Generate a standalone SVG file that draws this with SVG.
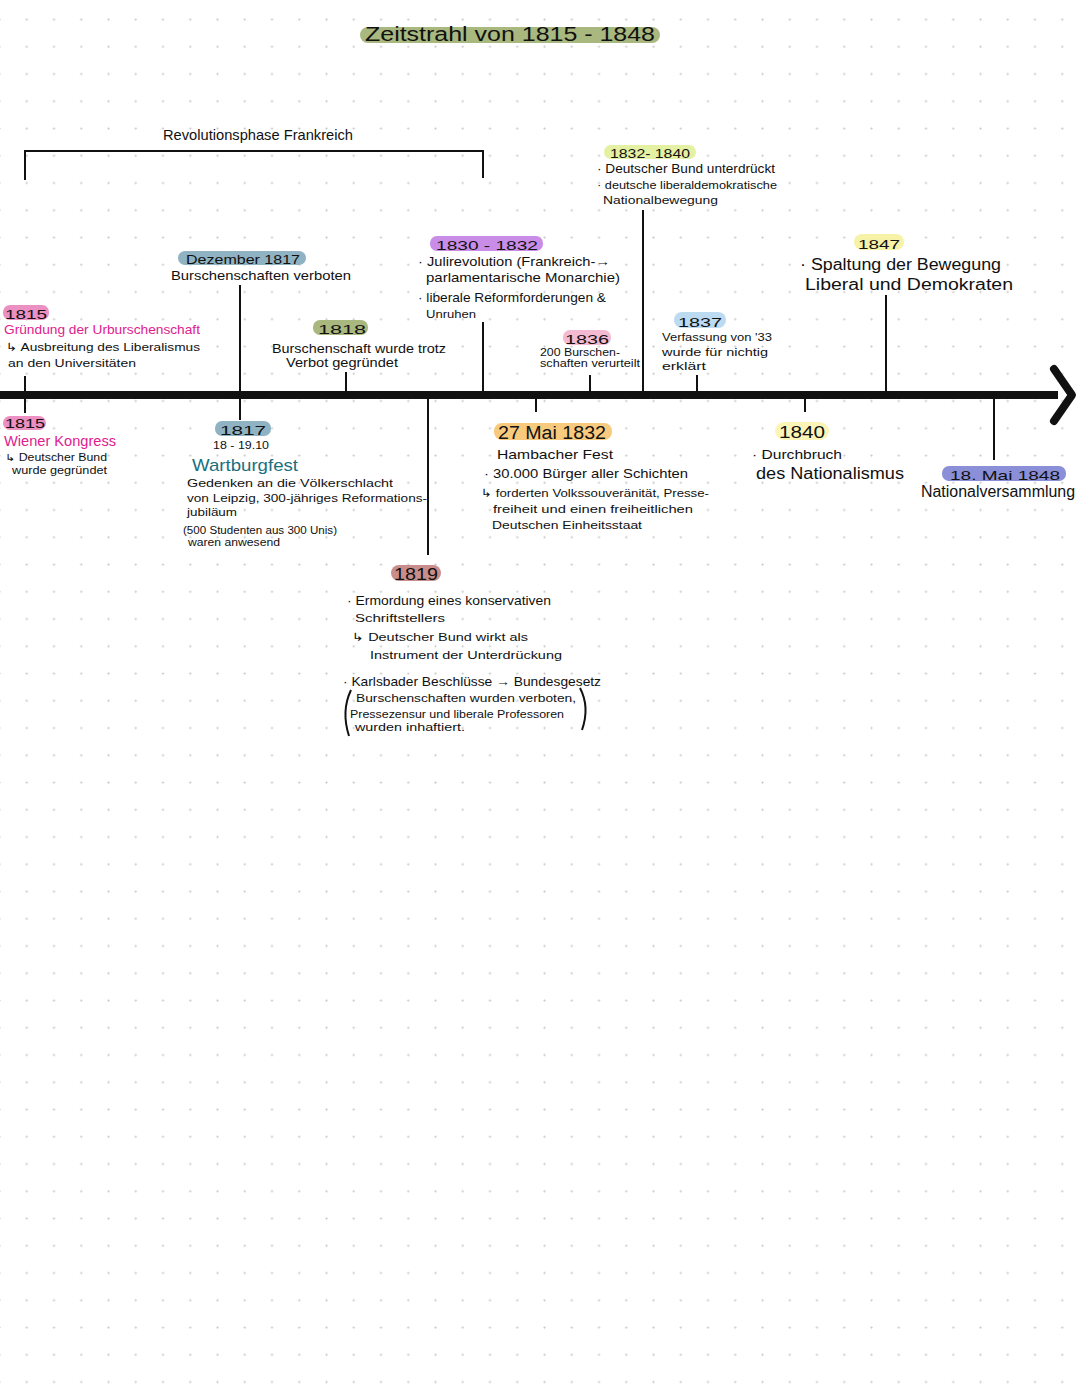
<svg xmlns="http://www.w3.org/2000/svg" width="1080" height="1394" viewBox="0 0 1080 1394">
<defs>
<pattern id="dots" x="-2" y="18" width="27.25" height="27.25" patternUnits="userSpaceOnUse">
<circle cx="1.5" cy="1.5" r="1.1" fill="#c8c8c8"/>
</pattern>
<style>
text{font-family:"Liberation Sans","DejaVu Sans",sans-serif;fill:#111}
.h{font-size:16px}
.m{font-size:13px}
.s{font-size:11px}
.xs{font-size:10px}
.ln{stroke:#111;stroke-width:2;fill:none}
.pink{fill:#e0208f}
</style>
</defs>
<rect width="1080" height="1394" fill="#fff"/>
<rect width="1080" height="1394" fill="url(#dots)"/>

<g id="title">
<rect x="360" y="27" width="300" height="16" rx="8" fill="#a9b87f"/>
<text x="365" y="41" font-size="20" textLength="290" lengthAdjust="spacingAndGlyphs">Zeitstrahl von 1815 - 1848</text>
</g>

<g id="connectors">
<line x1="0" y1="395" x2="1058" y2="395" stroke="#111" stroke-width="8"/>
<polyline points="1054,369 1072,395 1054,421" fill="none" stroke="#111" stroke-width="8" stroke-linecap="round" stroke-linejoin="round"/>
<polyline class="ln" points="25,180 25,151 483,151 483,178"/>
<line class="ln" x1="25" y1="376" x2="25" y2="413"/>
<line class="ln" x1="240" y1="285" x2="240" y2="420"/>
<line class="ln" x1="346" y1="372" x2="346" y2="395"/>
<line class="ln" x1="428" y1="395" x2="428" y2="555"/>
<line class="ln" x1="483" y1="322" x2="483" y2="395"/>
<line class="ln" x1="536" y1="395" x2="536" y2="412"/>
<line class="ln" x1="590" y1="375" x2="590" y2="395"/>
<line class="ln" x1="643" y1="210" x2="643" y2="395"/>
<line class="ln" x1="697" y1="375" x2="697" y2="395"/>
<line class="ln" x1="805" y1="395" x2="805" y2="412"/>
<line class="ln" x1="886" y1="295" x2="886" y2="395"/>
<line class="ln" x1="994" y1="395" x2="994" y2="460"/>
</g>

<g id="revolutionsphase">
<text x="163" y="140" font-size="15" textLength="190" lengthAdjust="spacingAndGlyphs">Revolutionsphase Frankreich</text>
</g>

<g id="n1832-1840">
<rect x="604" y="145" width="92" height="14" rx="7" fill="#e4f0a2"/>
<text x="610" y="158" class="m" textLength="80" lengthAdjust="spacingAndGlyphs">1832- 1840</text>
<text x="597" y="173" class="m" textLength="178" lengthAdjust="spacingAndGlyphs">· Deutscher Bund unterdrückt</text>
<text x="597" y="189" class="s" textLength="180" lengthAdjust="spacingAndGlyphs">· deutsche liberaldemokratische</text>
<text x="603" y="204" class="s" textLength="115" lengthAdjust="spacingAndGlyphs">Nationalbewegung</text>
</g>

<g id="n-dez1817">
<rect x="178" y="251" width="128" height="14" rx="7" fill="#8fb3c3"/>
<text x="186" y="264" class="m" textLength="114" lengthAdjust="spacingAndGlyphs">Dezember 1817</text>
<text x="171" y="280" class="m" textLength="180" lengthAdjust="spacingAndGlyphs">Burschenschaften verboten</text>
</g>

<g id="n1815a">
<rect x="3" y="305" width="46" height="15" rx="7" fill="#ec8fc2"/>
<text x="5" y="319" class="m" textLength="42" lengthAdjust="spacingAndGlyphs">1815</text>
<text x="4" y="334" class="m pink" textLength="196" lengthAdjust="spacingAndGlyphs">Gründung der Urburschenschaft</text>
<text x="6" y="351" class="s" textLength="194" lengthAdjust="spacingAndGlyphs">↳ Ausbreitung des Liberalismus</text>
<text x="8" y="367" class="s" textLength="128" lengthAdjust="spacingAndGlyphs">an den Universitäten</text>
</g>

<g id="n1818">
<rect x="313" y="320" width="55" height="15" rx="7" fill="#a9b87f"/>
<text x="318" y="334" class="m" textLength="48" lengthAdjust="spacingAndGlyphs">1818</text>
<text x="272" y="353" class="m" textLength="174" lengthAdjust="spacingAndGlyphs">Burschenschaft wurde trotz</text>
<text x="286" y="367" class="m" textLength="112" lengthAdjust="spacingAndGlyphs">Verbot gegründet</text>
</g>

<g id="n1830-1832">
<rect x="430" y="236" width="113" height="15" rx="7" fill="#c98de8"/>
<text x="436" y="250" class="m" textLength="102" lengthAdjust="spacingAndGlyphs">1830 - 1832</text>
<text x="418" y="266" class="m" textLength="192" lengthAdjust="spacingAndGlyphs">· Julirevolution (Frankreich-→</text>
<text x="426" y="282" class="m" textLength="194" lengthAdjust="spacingAndGlyphs">parlamentarische Monarchie)</text>
<text x="418" y="302" class="m" textLength="188" lengthAdjust="spacingAndGlyphs">· liberale Reformforderungen &amp;</text>
<text x="426" y="318" class="s" textLength="50" lengthAdjust="spacingAndGlyphs">Unruhen</text>
</g>

<g id="n1836">
<rect x="563" y="330" width="48" height="15" rx="7" fill="#f4bad2"/>
<text x="565" y="344" class="m" textLength="44" lengthAdjust="spacingAndGlyphs">1836</text>
<text x="540" y="356" class="xs" textLength="80" lengthAdjust="spacingAndGlyphs">200 Burschen-</text>
<text x="540" y="367" class="xs" textLength="100" lengthAdjust="spacingAndGlyphs">schaften verurteilt</text>
</g>

<g id="n1837">
<rect x="674" y="312" width="52" height="16" rx="8" fill="#bcdaf0"/>
<text x="678" y="327" class="m" textLength="44" lengthAdjust="spacingAndGlyphs">1837</text>
<text x="662" y="341" class="s" textLength="110" lengthAdjust="spacingAndGlyphs">Verfassung von '33</text>
<text x="662" y="356" class="s" textLength="106" lengthAdjust="spacingAndGlyphs">wurde für nichtig</text>
<text x="662" y="370" class="s" textLength="44" lengthAdjust="spacingAndGlyphs">erklärt</text>
</g>

<g id="n1847">
<rect x="854" y="234" width="50" height="16" rx="8" fill="#f6f2a8"/>
<text x="858" y="249" class="m" textLength="42" lengthAdjust="spacingAndGlyphs">1847</text>
<text x="800" y="270" class="h" textLength="201" lengthAdjust="spacingAndGlyphs">· Spaltung der Bewegung</text>
<text x="805" y="290" class="h" textLength="208" lengthAdjust="spacingAndGlyphs">Liberal und Demokraten</text>
</g>

<g id="n1815b">
<rect x="3" y="416" width="43" height="14" rx="7" fill="#ec8fc2"/>
<text x="5" y="428" class="m" textLength="40" lengthAdjust="spacingAndGlyphs">1815</text>
<text x="4" y="446" font-size="15" class="pink" textLength="112" lengthAdjust="spacingAndGlyphs">Wiener Kongress</text>
<text x="5" y="461" class="xs" textLength="102" lengthAdjust="spacingAndGlyphs">↳ Deutscher Bund</text>
<text x="12" y="474" class="xs" textLength="95" lengthAdjust="spacingAndGlyphs">wurde gegründet</text>
</g>

<g id="n1817">
<rect x="215" y="421" width="56" height="15" rx="7" fill="#8fb3c3"/>
<text x="220" y="435" class="m" textLength="46" lengthAdjust="spacingAndGlyphs">1817</text>
<text x="213" y="449" class="xs" textLength="56" lengthAdjust="spacingAndGlyphs">18 - 19.10</text>
<text x="192" y="471" font-size="17" style="fill:#1a6f80" textLength="106" lengthAdjust="spacingAndGlyphs">Wartburgfest</text>
<text x="187" y="487" class="s" textLength="206" lengthAdjust="spacingAndGlyphs">Gedenken an die Völkerschlacht</text>
<text x="187" y="502" class="s" textLength="240" lengthAdjust="spacingAndGlyphs">von Leipzig, 300-jähriges Reformations-</text>
<text x="187" y="516" class="xs" textLength="50" lengthAdjust="spacingAndGlyphs">jubiläum</text>
<text x="183" y="534" class="xs" textLength="154" lengthAdjust="spacingAndGlyphs">(500 Studenten aus 300 Unis)</text>
<text x="188" y="546" class="xs" textLength="92" lengthAdjust="spacingAndGlyphs">waren anwesend</text>
</g>

<g id="n27mai1832">
<rect x="494" y="423" width="118" height="17" rx="8" fill="#f8ca7e"/>
<text x="498" y="439" font-size="18" textLength="108" lengthAdjust="spacingAndGlyphs">27 Mai 1832</text>
<text x="497" y="459" class="m" textLength="116" lengthAdjust="spacingAndGlyphs">Hambacher Fest</text>
<text x="484" y="478" class="m" textLength="204" lengthAdjust="spacingAndGlyphs">· 30.000 Bürger aller Schichten</text>
<text x="481" y="497" class="s" textLength="228" lengthAdjust="spacingAndGlyphs">↳ forderten Volkssouveränität, Presse-</text>
<text x="493" y="513" class="s" textLength="200" lengthAdjust="spacingAndGlyphs">freiheit und einen freiheitlichen</text>
<text x="492" y="529" class="s" textLength="150" lengthAdjust="spacingAndGlyphs">Deutschen Einheitsstaat</text>
</g>

<g id="n1840">
<rect x="775" y="422" width="54" height="18" rx="9" fill="#fbf6b8"/>
<text x="779" y="438" class="h" textLength="46" lengthAdjust="spacingAndGlyphs">1840</text>
<text x="752" y="459" class="m" textLength="90" lengthAdjust="spacingAndGlyphs">· Durchbruch</text>
<text x="756" y="479" class="h" textLength="148" lengthAdjust="spacingAndGlyphs">des Nationalismus</text>
</g>

<g id="n18mai1848">
<rect x="942" y="466" width="124" height="15" rx="7" fill="#8b8fd8"/>
<text x="950" y="480" class="m" textLength="110" lengthAdjust="spacingAndGlyphs">18. Mai 1848</text>
<text x="921" y="497" class="h" textLength="154" lengthAdjust="spacingAndGlyphs">Nationalversammlung</text>
</g>

<g id="n1819">
<rect x="391" y="565" width="50" height="16" rx="8" fill="#c98e8c"/>
<text x="394" y="580" class="h" textLength="44" lengthAdjust="spacingAndGlyphs">1819</text>
<text x="347" y="605" class="m" textLength="204" lengthAdjust="spacingAndGlyphs">· Ermordung eines konservativen</text>
<text x="355" y="622" class="s" textLength="90" lengthAdjust="spacingAndGlyphs">Schriftstellers</text>
<text x="352" y="641" class="s" textLength="176" lengthAdjust="spacingAndGlyphs">↳ Deutscher Bund wirkt als</text>
<text x="370" y="659" class="s" textLength="192" lengthAdjust="spacingAndGlyphs">Instrument der Unterdrückung</text>
<text x="343" y="686" class="m" textLength="258" lengthAdjust="spacingAndGlyphs">· Karlsbader Beschlüsse → Bundesgesetz</text>
<text x="356" y="702" class="s" textLength="220" lengthAdjust="spacingAndGlyphs">Burschenschaften wurden verboten,</text>
<text x="350" y="718" class="xs" textLength="214" lengthAdjust="spacingAndGlyphs">Pressezensur und liberale Professoren</text>
<text x="355" y="731" class="xs" textLength="110" lengthAdjust="spacingAndGlyphs">wurden inhaftiert.</text>
<path class="ln" d="M351,690 Q341,711 349,736" stroke-width="1.5"/>
<path class="ln" d="M580,688 Q590,707 582,730" stroke-width="1.5"/>
</g>
</svg>
